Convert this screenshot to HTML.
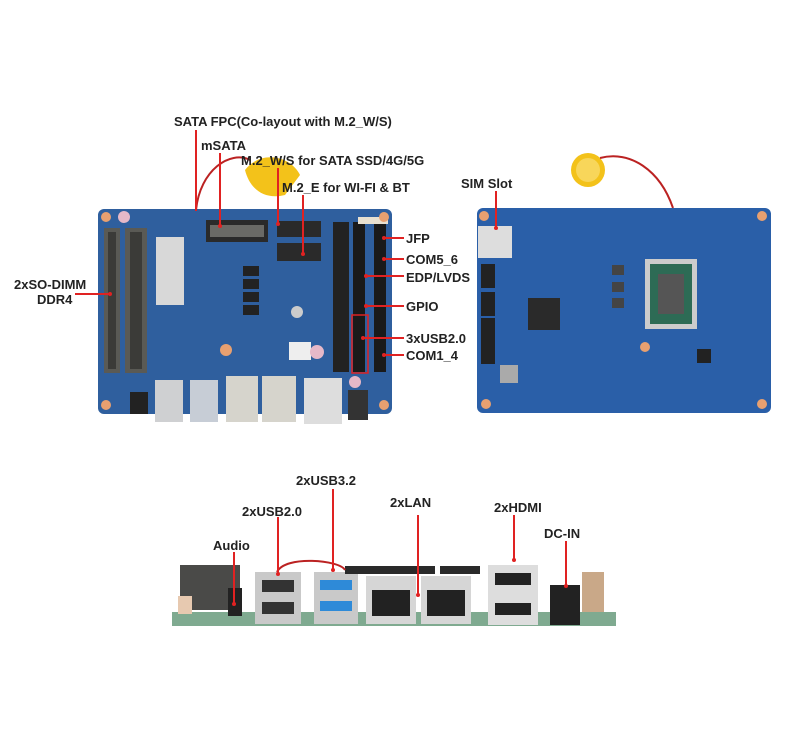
<!DOCTYPE html>
<html><head><meta charset="utf-8"><style>
html,body{margin:0;padding:0;background:#fff;}
svg{display:block}
text{font-family:"Liberation Sans",sans-serif;font-weight:bold;font-size:13px;fill:#222}
</style></head><body>
<svg width="787" height="754" viewBox="0 0 787 754" xmlns="http://www.w3.org/2000/svg">
<!-- ===== Top-left board ===== -->
<path d="M245 170 C260 150 290 155 300 175 L285 195 C265 200 250 190 245 170Z" fill="#f3c21a"/>
<path d="M196 210 C200 170 230 150 250 160" stroke="#b22" stroke-width="2" fill="none"/>
<rect x="98" y="209" width="294" height="205" rx="6" fill="#2f5f9e"/>
<rect x="104" y="228" width="16" height="145" fill="#5a5a55"/>
<rect x="125" y="228" width="22" height="145" fill="#5a5a55"/>
<rect x="108" y="232" width="8" height="137" fill="#3b3b38"/>
<rect x="130" y="232" width="12" height="137" fill="#3b3b38"/>
<rect x="156" y="237" width="28" height="68" fill="#d8d8d8"/>
<rect x="206" y="220" width="62" height="22" fill="#2a2a2a"/>
<rect x="210" y="225" width="54" height="12" fill="#6a6a66"/>
<rect x="277" y="221" width="44" height="16" fill="#2a2a2a"/>
<rect x="277" y="243" width="44" height="18" fill="#2a2a2a"/>
<rect x="243" y="266" width="16" height="10" fill="#222"/>
<rect x="243" y="279" width="16" height="10" fill="#222"/>
<rect x="243" y="292" width="16" height="10" fill="#222"/>
<rect x="243" y="305" width="16" height="10" fill="#222"/>
<circle cx="297" cy="312" r="6" fill="#ccc"/>
<rect x="289" y="342" width="22" height="18" fill="#eee"/>
<circle cx="317" cy="352" r="7" fill="#e6b8c8"/>
<circle cx="226" cy="350" r="6" fill="#e8a070"/>
<rect x="333" y="222" width="16" height="150" fill="#222"/>
<rect x="353" y="222" width="12" height="150" fill="#1a1a1a"/>
<rect x="374" y="222" width="12" height="150" fill="#1a1a1a"/>
<rect x="352" y="315" width="16" height="58" fill="none" stroke="#d22" stroke-width="1.5"/>
<rect x="358" y="217" width="30" height="7" fill="#e8e0d0"/>
<circle cx="106" cy="217" r="5" fill="#e8a070"/><circle cx="384" cy="217" r="5" fill="#e8a070"/>
<circle cx="106" cy="405" r="5" fill="#e8a070"/><circle cx="384" cy="405" r="5" fill="#e8a070"/>
<circle cx="124" cy="217" r="6" fill="#e6b8c8"/>
<rect x="155" y="380" width="28" height="42" fill="#cfd0d2"/>
<rect x="190" y="380" width="28" height="42" fill="#c7cdd6"/>
<rect x="226" y="376" width="32" height="46" fill="#d6d4cc"/>
<rect x="262" y="376" width="34" height="46" fill="#d6d4cc"/>
<rect x="304" y="378" width="38" height="46" fill="#ddd"/>
<rect x="348" y="390" width="20" height="30" fill="#333"/>
<circle cx="355" cy="382" r="6" fill="#e6b8c8"/>
<rect x="130" y="392" width="18" height="22" fill="#222"/>
<!-- ===== Top-right board ===== -->
<circle cx="588" cy="170" r="17" fill="#f3c21a"/><circle cx="588" cy="170" r="12" fill="#f8d65a"/>
<path d="M600 158 C630 150 660 170 673 208" stroke="#b22" stroke-width="2" fill="none"/>
<rect x="477" y="208" width="294" height="205" rx="6" fill="#2a5fa8"/>
<rect x="478" y="226" width="34" height="32" fill="#ddd"/>
<rect x="481" y="264" width="14" height="24" fill="#222"/>
<rect x="481" y="292" width="14" height="24" fill="#222"/>
<rect x="481" y="318" width="14" height="24" fill="#222"/>
<rect x="481" y="342" width="14" height="22" fill="#222"/>
<rect x="528" y="298" width="32" height="32" fill="#2a2a2a"/>
<rect x="645" y="259" width="52" height="70" fill="#ccc"/>
<rect x="650" y="264" width="42" height="60" fill="#2d6b55"/>
<rect x="658" y="274" width="26" height="40" fill="#555"/>
<rect x="612" y="265" width="12" height="10" fill="#444"/><rect x="612" y="282" width="12" height="10" fill="#444"/><rect x="612" y="298" width="12" height="10" fill="#444"/>
<rect x="500" y="365" width="18" height="18" fill="#aaa"/>
<rect x="697" y="349" width="14" height="14" fill="#222"/>
<circle cx="484" cy="216" r="5" fill="#e8a070"/><circle cx="762" cy="216" r="5" fill="#e8a070"/>
<circle cx="486" cy="404" r="5" fill="#e8a070"/><circle cx="762" cy="404" r="5" fill="#e8a070"/>
<circle cx="645" cy="347" r="5" fill="#e8a070"/>
<!-- ===== Bottom side view ===== -->
<rect x="172" y="612" width="444" height="14" fill="#7faa90"/>
<rect x="180" y="565" width="60" height="45" fill="#4a4a48"/>
<rect x="178" y="596" width="14" height="18" fill="#e7c9b0"/>
<rect x="228" y="588" width="14" height="28" fill="#222"/>
<rect x="255" y="572" width="46" height="52" fill="#c9c9c9"/>
<rect x="262" y="580" width="32" height="12" fill="#333"/><rect x="262" y="602" width="32" height="12" fill="#333"/>
<rect x="314" y="572" width="44" height="52" fill="#c9c9c9"/>
<rect x="320" y="580" width="32" height="10" fill="#2e8ad8"/><rect x="320" y="601" width="32" height="10" fill="#2e8ad8"/>
<rect x="345" y="566" width="90" height="8" fill="#2a2a2a"/>
<rect x="366" y="576" width="50" height="48" fill="#d6d6d6"/>
<rect x="372" y="590" width="38" height="26" fill="#222"/>
<rect x="421" y="576" width="50" height="48" fill="#d6d6d6"/>
<rect x="427" y="590" width="38" height="26" fill="#222"/>
<rect x="440" y="566" width="40" height="8" fill="#2a2a2a"/>
<rect x="488" y="565" width="50" height="60" fill="#ddd"/>
<rect x="495" y="573" width="36" height="12" fill="#222"/><rect x="495" y="603" width="36" height="12" fill="#222"/>
<rect x="550" y="585" width="30" height="40" fill="#222"/>
<rect x="582" y="572" width="22" height="40" fill="#c9a888"/>
<path d="M277 572 C285 555 340 560 345 570" stroke="#b22" stroke-width="2" fill="none"/>
<!-- ===== Callouts ===== -->
<g stroke="#e02222" stroke-width="2" fill="none">
<line x1="196" y1="130" x2="196" y2="211"/>
<line x1="220" y1="153" x2="220" y2="226"/>
<line x1="278" y1="168" x2="278" y2="224"/>
<line x1="303" y1="195" x2="303" y2="254"/>
<line x1="384" y1="238" x2="404" y2="238"/>
<line x1="384" y1="259" x2="404" y2="259"/>
<line x1="366" y1="276" x2="404" y2="276"/>
<line x1="366" y1="306" x2="404" y2="306"/>
<line x1="363" y1="338" x2="404" y2="338"/>
<line x1="384" y1="355" x2="404" y2="355"/>
<line x1="75" y1="294" x2="110" y2="294"/>
<line x1="496" y1="191" x2="496" y2="228"/>
<line x1="333" y1="489" x2="333" y2="570"/>
<line x1="278" y1="517" x2="278" y2="574"/>
<line x1="234" y1="552" x2="234" y2="604"/>
<line x1="418" y1="515" x2="418" y2="595"/>
<line x1="514" y1="515" x2="514" y2="560"/>
<line x1="566" y1="541" x2="566" y2="586"/>
</g>
<g fill="#e02222">
<circle cx="220" cy="226" r="2"/><circle cx="278" cy="224" r="2"/><circle cx="303" cy="254" r="2"/>
<circle cx="384" cy="238" r="2"/><circle cx="384" cy="259" r="2"/><circle cx="366" cy="276" r="2"/>
<circle cx="366" cy="306" r="2"/><circle cx="363" cy="338" r="2"/><circle cx="384" cy="355" r="2"/>
<circle cx="110" cy="294" r="2"/><circle cx="496" cy="228" r="2"/>
<circle cx="333" cy="570" r="2"/><circle cx="278" cy="574" r="2"/><circle cx="234" cy="604" r="2"/>
<circle cx="418" cy="595" r="2"/><circle cx="514" cy="560" r="2"/><circle cx="566" cy="586" r="2"/>
</g>
<text x="174" y="126">SATA FPC(Co-layout with M.2_W/S)</text>
<text x="201" y="150">mSATA</text>
<text x="241" y="165">M.2_W/S for SATA SSD/4G/5G</text>
<text x="282" y="192">M.2_E for WI-FI &amp; BT</text>
<text x="406" y="243">JFP</text>
<text x="406" y="264">COM5_6</text>
<text x="406" y="282">EDP/LVDS</text>
<text x="406" y="311">GPIO</text>
<text x="406" y="343">3xUSB2.0</text>
<text x="406" y="360">COM1_4</text>
<text x="14" y="289">2xSO-DIMM</text>
<text x="37" y="304">DDR4</text>
<text x="461" y="188">SIM Slot</text>
<text x="296" y="485">2xUSB3.2</text>
<text x="242" y="516">2xUSB2.0</text>
<text x="213" y="550">Audio</text>
<text x="390" y="507">2xLAN</text>
<text x="494" y="512">2xHDMI</text>
<text x="544" y="538">DC-IN</text>
</svg>
</body></html>
